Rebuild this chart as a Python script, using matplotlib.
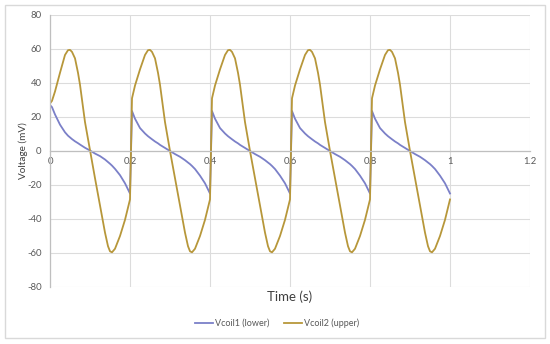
import matplotlib
matplotlib.use("Agg")
import matplotlib.pyplot as plt
from matplotlib.patches import Rectangle

plt.rcParams['font.family'] = ['Lato', 'DejaVu Sans']
plt.rcParams['axes.unicode_minus'] = False

# ---- data ----
time_s = [0.0,
          0.005, 0.0125, 0.025, 0.0375, 0.045, 0.05, 0.055, 0.0625, 0.07, 0.075, 0.0875, 0.1,
          0.1125, 0.125, 0.1375, 0.145, 0.15, 0.155, 0.1625, 0.175, 0.1875, 0.2,
          0.205, 0.2125, 0.225, 0.2375, 0.245, 0.25, 0.255, 0.2625, 0.27, 0.275, 0.2875, 0.3,
          0.3125, 0.325, 0.3375, 0.345, 0.35, 0.355, 0.3625, 0.375, 0.3875, 0.4,
          0.405, 0.4125, 0.425, 0.4375, 0.445, 0.45, 0.455, 0.4625, 0.47, 0.475, 0.4875, 0.5,
          0.5125, 0.525, 0.5375, 0.545, 0.55, 0.555, 0.5625, 0.575, 0.5875, 0.6,
          0.605, 0.6125, 0.625, 0.6375, 0.645, 0.65, 0.655, 0.6625, 0.67, 0.675, 0.6875, 0.7,
          0.7125, 0.725, 0.7375, 0.745, 0.75, 0.755, 0.7625, 0.775, 0.7875, 0.8,
          0.805, 0.8125, 0.825, 0.8375, 0.845, 0.85, 0.855, 0.8625, 0.87, 0.875, 0.8875, 0.9,
          0.9125, 0.925, 0.9375, 0.945, 0.95, 0.955, 0.9625, 0.975, 0.9875, 1.0]

vcoil1_lower = [27.0,
                25.8, 21.5, 15.5, 11.0, 9.0, 8.0, 7.0, 5.7, 4.6, 3.8, 1.9, 0.3,
                -1.5, -3.0, -5.0, -6.5, -7.5, -8.6, -10.5, -14.2, -19.0, -25.0,
                23.5, 19.0, 13.5, 10.3, 8.7, 7.8, 6.9, 5.6, 4.5, 3.6, 1.8, 0.0,
                -1.8, -3.4, -5.4, -6.8, -7.7, -8.8, -10.6, -14.5, -19.0, -25.0,
                23.5, 19.0, 13.5, 10.3, 8.7, 7.8, 6.9, 5.6, 4.5, 3.6, 1.8, 0.0,
                -1.8, -3.4, -5.4, -6.8, -7.7, -8.8, -10.6, -14.5, -19.0, -25.0,
                23.5, 19.0, 13.5, 10.3, 8.7, 7.8, 6.9, 5.6, 4.5, 3.6, 1.8, 0.0,
                -1.8, -3.4, -5.4, -6.8, -7.7, -8.8, -10.6, -14.5, -19.0, -25.0,
                23.5, 19.0, 13.5, 10.3, 8.7, 7.8, 6.9, 5.6, 4.5, 3.6, 1.8, 0.0,
                -1.8, -3.4, -5.4, -6.8, -7.7, -8.8, -10.6, -14.5, -19.0, -25.0]

vcoil2_upper = [28.0,
                29.5, 35.0, 46.0, 56.5, 59.3, 59.5, 58.3, 54.5, 46.0, 39.0, 17.0, 0.5,
                -16.0, -32.0, -48.0, -56.0, -59.0, -59.6, -57.5, -50.0, -40.5, -28.5,
                31.0, 38.5, 48.0, 56.5, 59.3, 59.5, 58.3, 54.5, 46.0, 39.0, 17.0, 0.0,
                -16.0, -32.0, -48.0, -56.0, -59.0, -59.6, -57.5, -50.0, -40.5, -28.5,
                31.0, 38.5, 48.0, 56.5, 59.3, 59.5, 58.3, 54.5, 46.0, 39.0, 17.0, 0.0,
                -16.0, -32.0, -48.0, -56.0, -59.0, -59.6, -57.5, -50.0, -40.5, -28.5,
                31.0, 38.5, 48.0, 56.5, 59.3, 59.5, 58.3, 54.5, 46.0, 39.0, 17.0, 0.0,
                -16.0, -32.0, -48.0, -56.0, -59.0, -59.6, -57.5, -50.0, -40.5, -28.5,
                31.0, 38.5, 48.0, 56.5, 59.3, 59.5, 58.3, 54.5, 46.0, 39.0, 17.0, 0.0,
                -16.0, -32.0, -48.0, -56.0, -59.0, -59.6, -57.5, -50.0, -40.5, -28.5]

x_ticks = [0, 0.2, 0.4, 0.6, 0.8, 1.0, 1.2]
x_tick_labels = ["0", "0.2", "0.4", "0.6", "0.8", "1", "1.2"]
y_ticks = [-80, -60, -40, -20, 0, 20, 40, 60, 80]
y_tick_labels = ["-80", "-60", "-40", "-20", "0", "20", "40", "60", "80"]

# ---- figure ----
fig = plt.figure(figsize=(5.5, 3.44), dpi=100)
fig.patches.append(Rectangle((5 / 550, 1 - 338 / 344), 540 / 550, 333 / 344,
                             transform=fig.transFigure, fill=False,
                             edgecolor="#d9d9d9", linewidth=1.0))

ax = fig.add_axes([50 / 550, 1 - 287 / 344, 480 / 550, 272 / 344])
ax.set_xlim(0, 1.2)
ax.set_ylim(-80, 80)

ax.plot(time_s, vcoil1_lower, color="#7b80c8", linewidth=1.3, label="Vcoil1 (lower)")
ax.plot(time_s, vcoil2_upper, color="#b7973a", linewidth=1.3, label="Vcoil2 (upper)")

ax.set_xticks(x_ticks)
ax.set_xticklabels(x_tick_labels)
ax.set_yticks(y_ticks)
ax.set_yticklabels(y_tick_labels)
ax.tick_params(length=0, labelsize=6.8, colors="#595959", pad=6)
ax.tick_params(axis='x', pad=4)

ax.grid(True, color="#dcdcdc", linewidth=0.8)
ax.set_axisbelow(True)
for s in ["top", "right"]:
    ax.spines[s].set_visible(False)
ax.spines["left"].set_color("#bfbfbf")
ax.spines["left"].set_linewidth(0.9)
ax.spines["bottom"].set_position(("data", 0))
ax.spines["bottom"].set_color("#bfbfbf")
ax.spines["bottom"].set_linewidth(0.9)

fig.text(290 / 550, 1 - 297 / 344, "Time (s)", ha="center", va="center",
         fontsize=9.5, color="#404040")
fig.text(23 / 550, 1 - 151 / 344, "Voltage (mV)", ha="center", va="center",
         rotation=90, fontsize=7.2, color="#404040")

leg = fig.legend(loc="center", bbox_to_anchor=(277 / 550, 1 - 323 / 344), ncol=2,
                 frameon=False, fontsize=6.5, handlelength=2.0, columnspacing=1.6,
                 handletextpad=0.2)
for t in leg.get_texts():
    t.set_color("#595959")

fig.savefig("out.png", dpi=100)
